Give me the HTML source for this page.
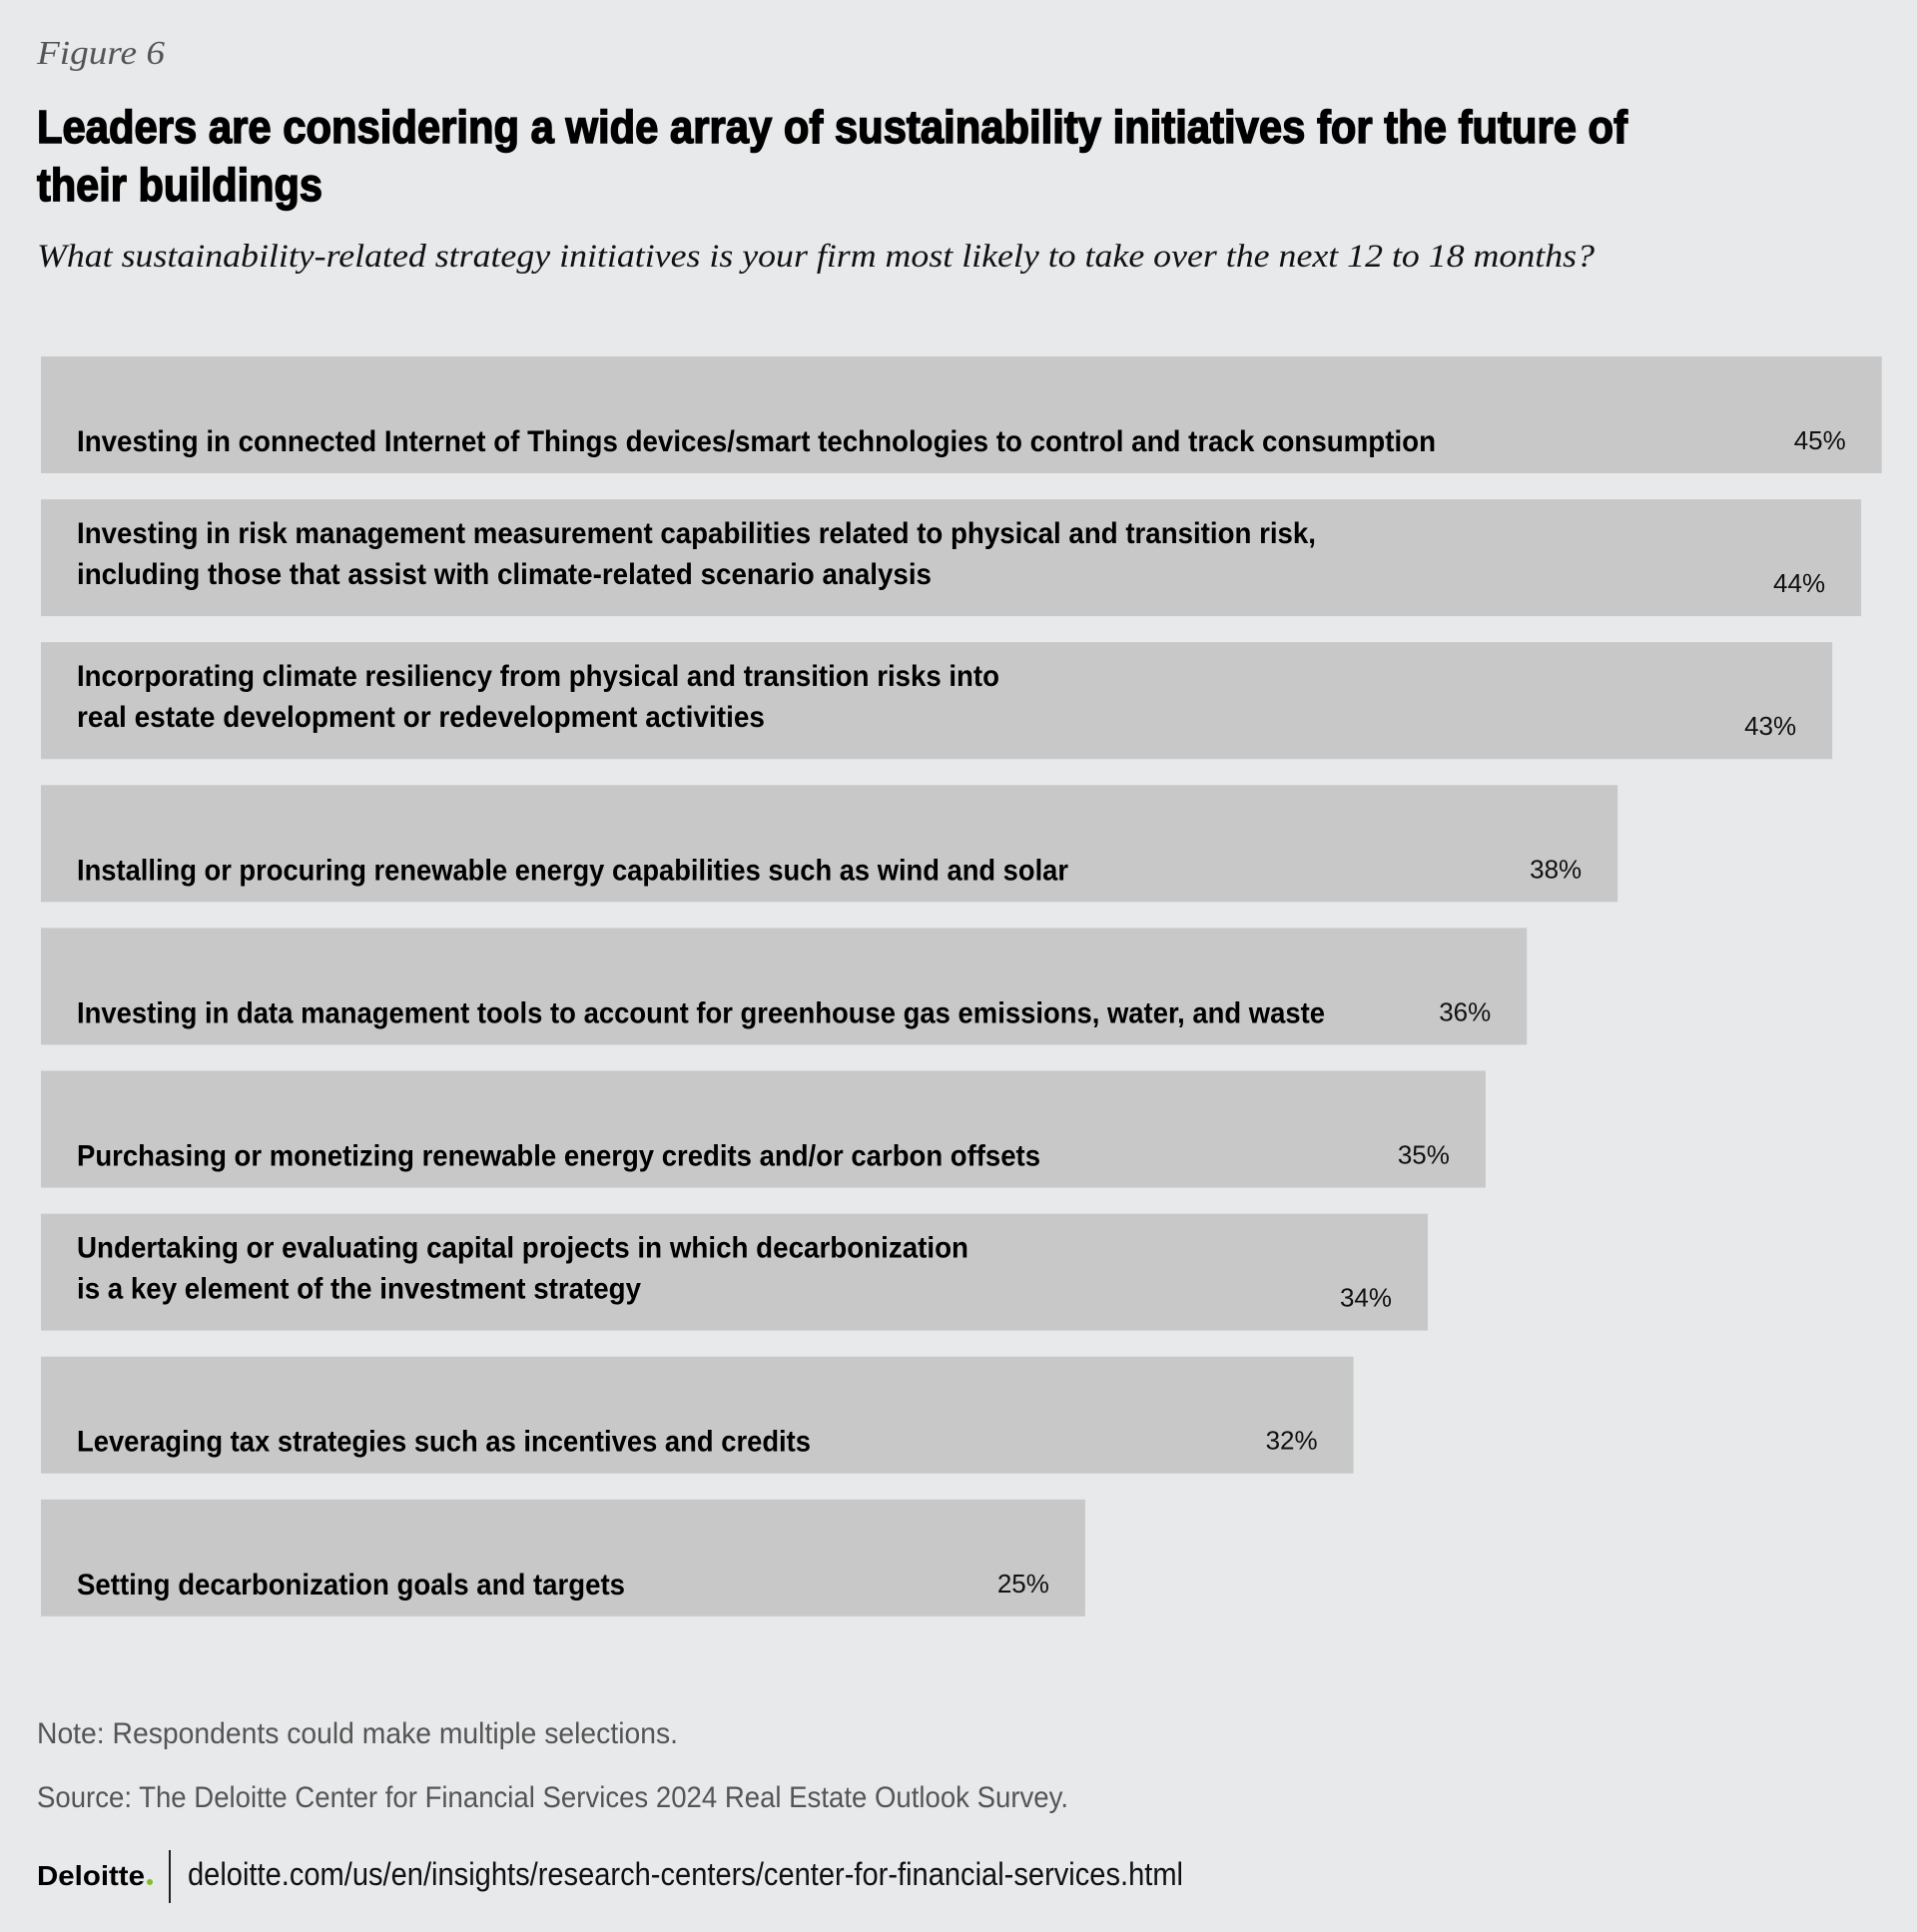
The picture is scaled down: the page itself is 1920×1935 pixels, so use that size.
<!DOCTYPE html>
<html><head><meta charset="utf-8"><style>
html,body{margin:0;padding:0;background:#e8e9eb;}
svg{display:block;}
</style></head><body>
<svg id="chart" width="1920" height="1935" viewBox="0 0 1920 1935" xmlns="http://www.w3.org/2000/svg">
<rect width="1920" height="1935" fill="#e8e9eb"/>
<text x="37" y="64" font-family="Liberation Serif, serif" font-style="italic" font-size="34" fill="#555" textLength="128" lengthAdjust="spacingAndGlyphs">Figure 6</text>
<text x="37" y="143" font-family="Liberation Sans, sans-serif" font-weight="bold" font-size="46" fill="#000" stroke="#000" stroke-width="1.5" textLength="1593" lengthAdjust="spacingAndGlyphs">Leaders are considering a wide array of sustainability initiatives for the future of</text>
<text x="37" y="201" font-family="Liberation Sans, sans-serif" font-weight="bold" font-size="46" fill="#000" stroke="#000" stroke-width="1.5" textLength="286" lengthAdjust="spacingAndGlyphs">their buildings</text>
<text x="37" y="267" font-family="Liberation Serif, serif" font-style="italic" font-size="33" fill="#111" textLength="1560" lengthAdjust="spacingAndGlyphs">What sustainability-related strategy initiatives is your firm most likely to take over the next 12 to 18 months?</text>
<g id="bars"></g>
<text x="37" y="1746" font-family="Liberation Sans, sans-serif" font-size="30" fill="#555" textLength="642" lengthAdjust="spacingAndGlyphs">Note: Respondents could make multiple selections.</text>
<text x="37" y="1810" font-family="Liberation Sans, sans-serif" font-size="30" fill="#555" textLength="1033" lengthAdjust="spacingAndGlyphs">Source: The Deloitte Center for Financial Services 2024 Real Estate Outlook Survey.</text>
<text x="37" y="1888" font-family="Liberation Sans, sans-serif" font-weight="bold" font-size="28" fill="#000" textLength="108" lengthAdjust="spacingAndGlyphs">Deloitte</text>
<circle cx="150" cy="1885" r="3" fill="#86bc25"/>
<line x1="170" y1="1853" x2="170" y2="1906" stroke="#222" stroke-width="2"/>
<text x="188" y="1888" font-family="Liberation Sans, sans-serif" font-size="32" fill="#111" textLength="997" lengthAdjust="spacingAndGlyphs">deloitte.com/us/en/insights/research-centers/center-for-financial-services.html</text>
</svg>
<script>
const categories = [
 ["Investing in connected Internet of Things devices/smart technologies to control and track consumption"],
 ["Investing in risk management measurement capabilities related to physical and transition risk,","including those that assist with climate-related scenario analysis"],
 ["Incorporating climate resiliency from physical and transition risks into","real estate development or redevelopment activities"],
 ["Installing or procuring renewable energy capabilities such as wind and solar"],
 ["Investing in data management tools to account for greenhouse gas emissions, water, and waste"],
 ["Purchasing or monetizing renewable energy credits and/or carbon offsets"],
 ["Undertaking or evaluating capital projects in which decarbonization","is a key element of the investment strategy"],
 ["Leveraging tax strategies such as incentives and credits"],
 ["Setting decarbonization goals and targets"]
];
const values = [44.6, 44.1, 43.4, 38.2, 36.0, 35.0, 33.6, 31.8, 25.3];
const valueLabels = ["45%","44%","43%","38%","36%","35%","34%","32%","25%"];
const lineWidths = [[1361],[1241,856],[924,689],[993],[1250],[965],[893,565],[735],[549]];
const NS="http://www.w3.org/2000/svg";
const g=document.getElementById('bars');
const x0=41, pxPerPct=41.34, top0=357, step=143.1, barH=117;
function xScale(v){return x0+v*pxPerPct;}
function yPos(i){return top0+i*step;}
values.forEach((v,i)=>{
 const y=yPos(i), xe=xScale(v);
 const r=document.createElementNS(NS,'rect');
 
 
 r.setAttribute('x',x0);r.setAttribute('y',y);r.setAttribute('width',xe-x0);r.setAttribute('height',barH);r.setAttribute('fill','#c8c8c8');
 g.appendChild(r);
 const lines=categories[i];
 lines.forEach((ln,j)=>{
  const t=document.createElementNS(NS,'text');
  
  
  const by = lines.length===1 ? y+95 : y+44+j*41;
  t.setAttribute('x',77);t.setAttribute('y',by);
  t.setAttribute('font-family','Liberation Sans, sans-serif');t.setAttribute('font-weight','bold');t.setAttribute('font-size','30');t.setAttribute('fill','#000');
  t.setAttribute('textLength',lineWidths[i][j]);t.setAttribute('lengthAdjust','spacingAndGlyphs');
  t.textContent=ln;g.appendChild(t);
 });
 const p=document.createElementNS(NS,'text');
 
 
 p.setAttribute('x',xe-36);p.setAttribute('y',y+93);p.setAttribute('text-anchor','end');
 p.setAttribute('font-family','Liberation Sans, sans-serif');p.setAttribute('font-size','26');p.setAttribute('fill','#111');
 p.textContent=valueLabels[i];g.appendChild(p);
});
</script>
</body></html>
